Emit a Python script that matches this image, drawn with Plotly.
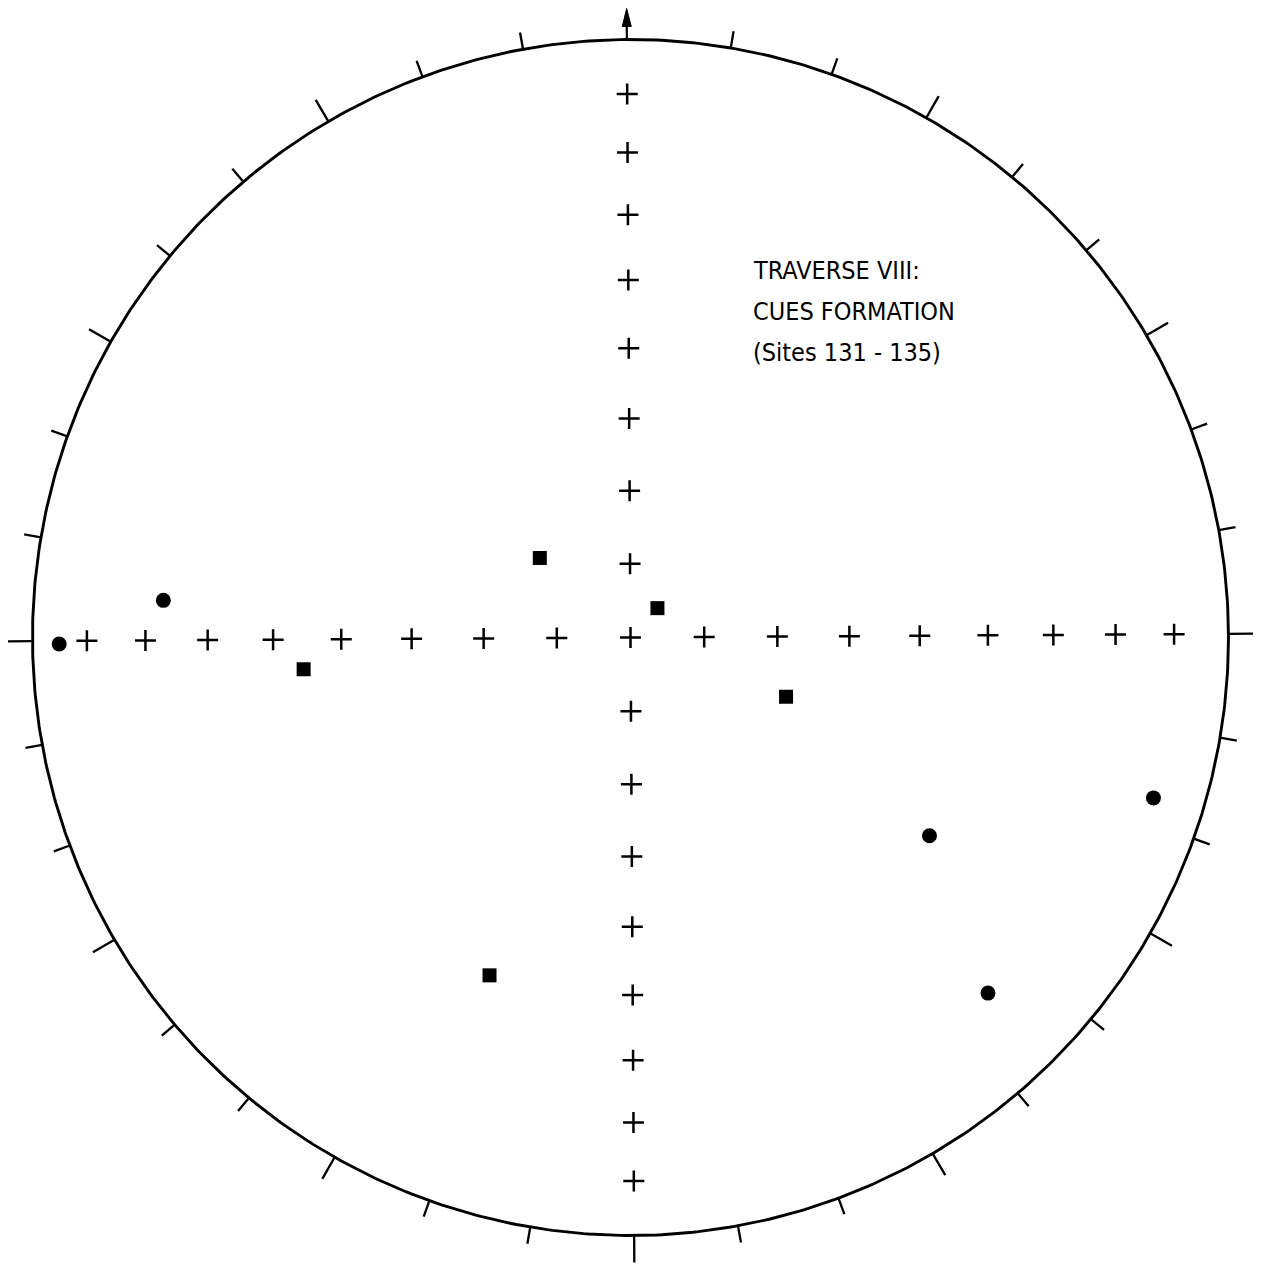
import numpy as np
import plotly.graph_objects as go

# ---- data (declination, inclination in degrees; equal-area projection) ----
circle_dec = [269.7, 274.9, 123.9, 107.4, 135.2]
circle_inc = [5.0, 22.7, 39.8, 9.4, 16.8]
square_dec = [311.6, 42.9, 264.8, 111.2, 203.0]
square_inc = [73.6, 84.6, 44.3, 67.3, 38.7]

grid_dec = [0, 90, 180, 270]
grid_inc = [10, 20, 30, 40, 50, 60, 70, 80]
tick_az = list(range(0, 360, 10))

title_lines = ["TRAVERSE VIII:", "CUES FORMATION", "(Sites 131 - 135)"]

# ---- geometry ----
OFF = 8                              # page body margin
W, H = 1261 - OFF, 1267 - OFF
CX, CY, PX = 630.5 - OFF, 637.5 - OFF, 598.0   # centre pixel (in figure) and px per unit radius
ROT = np.radians(0.35)               # slight rotation of the scanned net


def rot(x, y):
    x = np.asarray(x, float); y = np.asarray(y, float)
    return x * np.cos(ROT) - y * np.sin(ROT), x * np.sin(ROT) + y * np.cos(ROT)


def proj(dec, inc):
    dec = np.radians(np.asarray(dec, float)); inc = np.asarray(inc, float)
    r = np.sqrt(2) * np.sin(np.radians(90 - inc) / 2)
    return rot(r * np.sin(dec), r * np.cos(dec))


fig = go.Figure()

# primitive circle
t = np.linspace(0, 2 * np.pi, 721)
fig.add_trace(go.Scatter(x=np.cos(t), y=np.sin(t), mode="lines",
                         line=dict(color="black", width=2.9), hoverinfo="skip"))

# ticks around the primitive
tx, ty = [], []
for az in tick_az:
    if az == 0:
        continue
    if az % 90 == 0:
        L = 27
    elif az % 30 == 0:
        L = 25
    else:
        L = 17
    a = np.radians(az)
    r0, r1 = 1.0, 1.0 + L / PX
    x, y = rot([r0 * np.sin(a), r1 * np.sin(a)], [r0 * np.cos(a), r1 * np.cos(a)])
    tx += list(x) + [None]
    ty += list(y) + [None]
fig.add_trace(go.Scatter(x=tx, y=ty, mode="lines",
                         line=dict(color="black", width=2.3), hoverinfo="skip"))

# north arrow
ax, ay = rot([0, 0], [1.0, 1.0 + 26 / PX])
fig.add_trace(go.Scatter(x=ax, y=ay, mode="lines",
                         line=dict(color="black", width=2.2), hoverinfo="skip"))
hx, hy = rot([-4.5 / PX, 0, 4.5 / PX, -4.5 / PX],
             [1.0 + 13 / PX, 1.0 + 31 / PX, 1.0 + 13 / PX, 1.0 + 13 / PX])
fig.add_trace(go.Scatter(x=hx, y=hy, mode="lines", fill="toself",
                         fillcolor="black", line=dict(color="black", width=1),
                         hoverinfo="skip"))

# grid crosses
gd, gi = [], []
for d in grid_dec:
    for i in grid_inc:
        gd.append(d); gi.append(i)
gd.append(0); gi.append(90)
gx, gy = proj(gd, gi)
fig.add_trace(go.Scatter(x=gx, y=gy, mode="markers",
                         marker=dict(symbol="cross-thin", size=15,
                                     line=dict(color="black", width=2.5)),
                         hoverinfo="skip"))

# data
cx, cy = proj(circle_dec, circle_inc)
fig.add_trace(go.Scatter(x=cx, y=cy, mode="markers",
                         marker=dict(symbol="circle", size=15, color="black")))
sx, sy = proj(square_dec, square_inc)
fig.add_trace(go.Scatter(x=sx, y=sy, mode="markers",
                         marker=dict(symbol="square", size=14, color="black")))

# text block
for k, line in enumerate(title_lines):
    fig.add_annotation(x=(751 - OFF - CX) / PX, y=(CY - (254 - OFF + 41 * k)) / PX,
                       text=line, showarrow=False, xanchor="left", yanchor="top",
                       font=dict(family="DejaVu Sans Condensed, Liberation Sans Narrow, Arial Narrow, sans-serif",
                                 size=25, color="black"))

fig.update_layout(
    width=W, height=H, margin=dict(l=0, r=0, t=0, b=0),
    paper_bgcolor="white", plot_bgcolor="white", showlegend=False,
    xaxis=dict(range=[-CX / PX, (W - CX) / PX], visible=False, fixedrange=True),
    yaxis=dict(range=[-(H - CY) / PX, CY / PX], visible=False, fixedrange=True),
)
fig.write_html("out.html")
